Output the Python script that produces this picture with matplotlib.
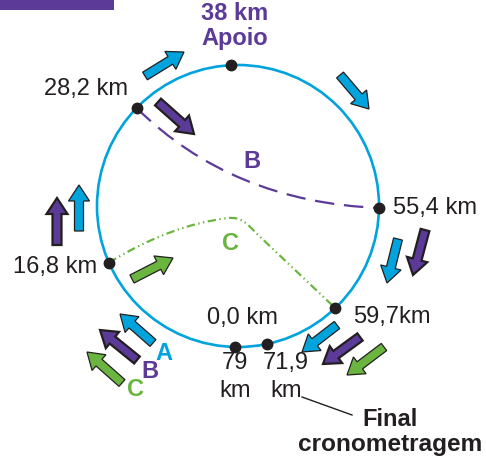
import numpy as np
import matplotlib
matplotlib.use("Agg")
import matplotlib.pyplot as plt
from matplotlib.patches import Circle, FancyArrow, Rectangle, PathPatch
from matplotlib.path import Path

plt.rcParams['font.family'] = ['Liberation Sans', 'DejaVu Sans']
plt.rcParams['lines.scale_dashes'] = False

AZUL = '#00a3dc'
ROXO = '#5c3a98'
VERDE = '#6ab53f'
PRETO = '#231f20'

# percurso circular (pixel)
centro = (238, 206)
raio = 141

# pontos de controle (km) e angulo no circulo
km_rotulos = ['38 km\nApoio', '28,2 km', '55,4 km', '16,8 km', '59,7km', '0,0 km', '71,9\nkm']
km_angulos = [92.9, 136.0, -0.8, 203.7, -46.4, -91.2, -78.2]

# setas: (x, y, dx, dy)
setas_A = [(145, 76, 39, -24), (340, 75, 29, 34), (79, 231, 0, -46),
           (398, 239, -11, 44), (337, 325, -35, 27), (153, 343, -33, -29)]
setas_B = [(158, 102, 36, 32), (57, 245, 0, -47), (425, 230, -12, 45),
           (360, 337, -37, 27), (137, 360, -37, -30)]
setas_C = [(132, 279, 41, -21), (384, 347, -37, 28), (122, 383, -35, -31)]


def ponto(ang):
    a = np.radians(ang)
    return centro[0] + raio * np.cos(a), centro[1] - raio * np.sin(a)


fig = plt.figure(figsize=(4.86, 4.58), dpi=100)
ax = fig.add_axes([0, 0, 1, 1])
ax.set_xlim(0, 486)
ax.set_ylim(458, 0)
ax.axis('off')

ax.add_patch(Rectangle((0, 0), 114, 10, color=ROXO, lw=0))

ax.add_patch(Circle(centro, raio, fill=False, ec=AZUL, lw=1.9, zorder=2))

# rota B
p0, p2 = ponto(km_angulos[1]), ponto(km_angulos[2])
rotaB = Path([p0, (232, 202), p2], [Path.MOVETO, Path.CURVE3, Path.CURVE3])
pb = PathPatch(rotaB, fill=False, ec=ROXO, lw=1.6, zorder=1)
pb.set_linestyle((0, (14, 7)))
ax.add_patch(pb)

# rota C
q0, q3 = ponto(km_angulos[3]), ponto(km_angulos[4])
rotaC = Path([q0, (170, 225), (228, 218), (240, 217), (246, 222), (255, 232), q3],
             [Path.MOVETO, Path.CURVE3, Path.CURVE3, Path.CURVE4, Path.CURVE4,
              Path.CURVE4, Path.LINETO])
pc = PathPatch(rotaC, fill=False, ec=VERDE, lw=1.6, zorder=1)
pc.set_linestyle((0, (6, 2.5, 1, 2.5, 1, 2.5)))
ax.add_patch(pc)

for ang in km_angulos:
    x, y = ponto(ang)
    ax.plot(x, y, 'o', color=PRETO, ms=7.5, zorder=5)

fs = 17
ax.text(235, 26, km_rotulos[0], ha='center', va='center', color=ROXO,
        fontsize=fs, fontweight='bold', linespacing=1.1)
ax.text(128, 89, km_rotulos[1], ha='right', va='center', color=PRETO, fontsize=fs)
ax.text(393, 208, km_rotulos[2], ha='left', va='center', color=PRETO, fontsize=fs)
ax.text(97, 267, km_rotulos[3], ha='right', va='center', color=PRETO, fontsize=fs)
ax.text(353, 317, km_rotulos[4], ha='left', va='center', color=PRETO, fontsize=fs)
ax.text(242, 318, km_rotulos[5], ha='center', va='center', color=PRETO, fontsize=fs)
ax.text(235, 377, '79\nkm', ha='center', va='center', color=PRETO, fontsize=fs,
        linespacing=1.35)
ax.text(286, 377, km_rotulos[6], ha='center', va='center', color=PRETO,
        fontsize=fs, linespacing=1.35)

ax.plot([302, 352], [397, 415], color=PRETO, lw=1)
ax.text(390, 419, 'Final', ha='center', va='center', color=PRETO,
        fontsize=fs, fontweight='bold')
ax.text(390, 445, 'cronometragem', ha='center', va='center', color=PRETO,
        fontsize=17.6, fontweight='bold')

ax.text(252, 162, 'B', ha='center', va='center', color=ROXO, fontsize=fs, fontweight='bold')
ax.text(230, 243, 'C', ha='center', va='center', color=VERDE, fontsize=fs, fontweight='bold')
ax.text(164, 353, 'A', ha='center', va='center', color=AZUL, fontsize=fs, fontweight='bold')
ax.text(150, 372, 'B', ha='center', va='center', color=ROXO, fontsize=fs, fontweight='bold')
ax.text(135, 390, 'C', ha='center', va='center', color=VERDE, fontsize=fs, fontweight='bold')

for setas, cor, borda in [(setas_A, AZUL, 0.9), (setas_B, ROXO, 1.6), (setas_C, VERDE, 0.9)]:
    for x, y, dx, dy in setas:
        ax.add_patch(FancyArrow(x, y, dx, dy, width=9, head_width=21, head_length=16,
                                length_includes_head=True, fc=cor, ec=PRETO,
                                lw=borda, zorder=6))

fig.savefig('out.png', dpi=100)
